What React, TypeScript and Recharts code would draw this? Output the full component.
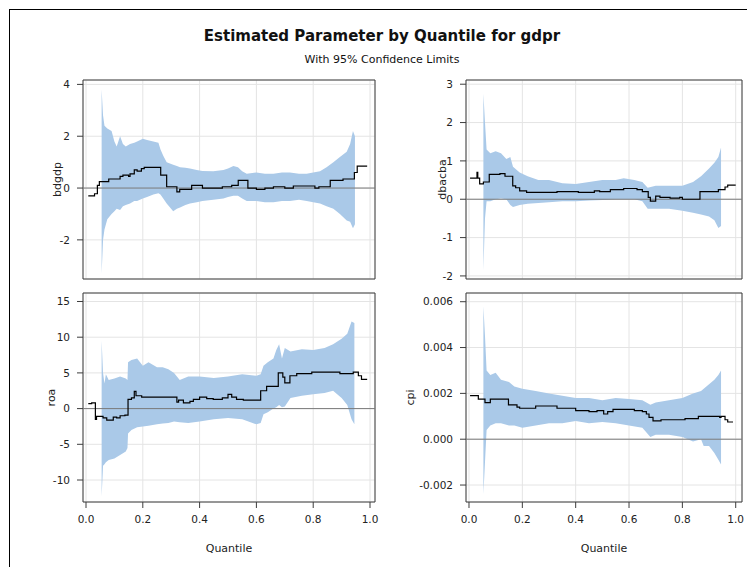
import React from 'react'
import {
  ComposedChart,
  Area,
  Line,
  XAxis,
  YAxis,
  CartesianGrid,
  ReferenceLine,
  ReferenceArea,
} from 'recharts'

const FONT = '"DejaVu Sans", Verdana, sans-serif'
const BAND = '#aac9e8'
const GRID = '#e4e4e4'
const FRAME = '#3c3c3c'

const quantileTicks = [0, 0.2, 0.4, 0.6, 0.8, 1.0]

// bdgdp
const bdgdpTicks = [-2, 0, 2, 4]
const bdgdpBandQ = [0.055, 0.06, 0.065, 0.075, 0.09, 0.10, 0.108, 0.12, 0.13, 0.14, 0.155, 0.17, 0.18, 0.20, 0.215, 0.237, 0.255, 0.262, 0.272, 0.284, 0.307, 0.32, 0.331, 0.35, 0.366, 0.39, 0.41, 0.448, 0.484, 0.50, 0.519, 0.535, 0.55, 0.566, 0.60, 0.63, 0.66, 0.69, 0.718, 0.75, 0.777, 0.80, 0.824, 0.847, 0.871, 0.894, 0.918, 0.93, 0.94, 0.947]
const bdgdpLower = [-3.3, -2.0, -1.6, -1.2, -1.0, -0.9, -0.8, -0.85, -0.7, -0.65, -0.6, -0.5, -0.5, -0.4, -0.35, -0.25, -0.2, -0.25, -0.4, -0.6, -0.9, -0.8, -0.75, -0.65, -0.6, -0.55, -0.5, -0.45, -0.4, -0.35, -0.3, -0.3, -0.4, -0.5, -0.5, -0.55, -0.55, -0.5, -0.5, -0.45, -0.5, -0.55, -0.6, -0.7, -0.8, -1.0, -1.25, -1.3, -1.55, -1.4]
const bdgdpUpper = [3.8, 2.8, 2.4, 2.3, 2.2, 1.8, 1.6, 2.0, 1.7, 1.6, 1.7, 1.75, 1.8, 1.9, 1.85, 1.8, 1.75, 1.5, 1.25, 1.0, 0.9, 0.85, 0.8, 0.78, 0.75, 0.7, 0.66, 0.65, 0.7, 0.75, 0.85, 0.8, 0.65, 0.55, 0.6, 0.55, 0.55, 0.6, 0.6, 0.55, 0.55, 0.6, 0.65, 0.8, 1.0, 1.2, 1.4, 1.7, 2.2, 2.0]
const bdgdpQ = [0.008, 0.03, 0.04, 0.047, 0.08, 0.12, 0.13, 0.15, 0.155, 0.17, 0.18, 0.195, 0.205, 0.263, 0.284, 0.32, 0.33, 0.372, 0.41, 0.48, 0.513, 0.536, 0.57, 0.60, 0.63, 0.66, 0.70, 0.73, 0.806, 0.82, 0.86, 0.905, 0.945, 0.955, 0.99]
const bdgdpEst = [-0.3, -0.22, 0.1, 0.25, 0.35, 0.45, 0.5, 0.45, 0.55, 0.7, 0.65, 0.75, 0.8, 0.5, 0.05, -0.15, -0.05, 0.1, 0.0, 0.05, 0.1, 0.3, 0.0, -0.05, 0.0, 0.05, 0.0, 0.08, 0.0, 0.05, 0.3, 0.35, 0.6, 0.85, 0.85]

// dbacba
const dbacbaTicks = [-2, -1, 0, 1, 2, 3]
const dbacbaBandQ = [0.054, 0.06, 0.066, 0.08, 0.10, 0.12, 0.14, 0.155, 0.165, 0.19, 0.22, 0.26, 0.30, 0.35, 0.40, 0.45, 0.50, 0.55, 0.58, 0.62, 0.65, 0.67, 0.70, 0.75, 0.80, 0.84, 0.87, 0.90, 0.92, 0.935, 0.945]
const dbacbaLower = [-1.85, -0.5, -0.05, -0.05, 0.0, 0.02, 0.0, -0.15, -0.2, -0.15, -0.12, -0.1, -0.08, -0.05, -0.05, -0.03, -0.02, 0.0, 0.0, 0.0, -0.05, -0.25, -0.25, -0.25, -0.3, -0.35, -0.4, -0.45, -0.55, -0.75, -0.7]
const dbacbaUpper = [2.75, 2.0, 1.3, 1.2, 1.25, 1.2, 1.05, 1.1, 0.85, 0.7, 0.6, 0.5, 0.5, 0.42, 0.4, 0.45, 0.5, 0.5, 0.55, 0.5, 0.45, 0.3, 0.35, 0.35, 0.35, 0.45, 0.6, 0.8, 0.95, 1.1, 1.35]
const dbacbaQ = [0.004, 0.03, 0.033, 0.04, 0.054, 0.076, 0.116, 0.135, 0.164, 0.175, 0.19, 0.216, 0.33, 0.41, 0.47, 0.49, 0.53, 0.58, 0.63, 0.65, 0.672, 0.68, 0.70, 0.716, 0.754, 0.79, 0.80, 0.866, 0.935, 0.96, 0.97, 1.0]
const dbacbaEst = [0.55, 0.7, 0.55, 0.4, 0.45, 0.65, 0.67, 0.6, 0.35, 0.3, 0.22, 0.18, 0.2, 0.18, 0.22, 0.2, 0.25, 0.28, 0.25, 0.2, 0.05, -0.05, 0.08, 0.05, 0.03, 0.05, 0.0, 0.2, 0.25, 0.32, 0.37, 0.37]

// roa
const roaTicks = [-10, -5, 0, 5, 10, 15]
const roaBandQ = [0.055, 0.06, 0.065, 0.07, 0.08, 0.10, 0.12, 0.14, 0.146, 0.148, 0.16, 0.18, 0.20, 0.22, 0.25, 0.27, 0.29, 0.31, 0.33, 0.36, 0.40, 0.45, 0.50, 0.55, 0.60, 0.615, 0.625, 0.64, 0.66, 0.67, 0.68, 0.69, 0.70, 0.72, 0.76, 0.80, 0.84, 0.87, 0.90, 0.92, 0.935, 0.945]
const roaLower = [-12.3, -8.0, -7.8, -7.5, -7.2, -7.0, -6.5, -6.0, -5.5, -3.5, -3.0, -2.6, -2.5, -2.4, -2.2, -2.1, -2.0, -1.8, -1.9, -2.0, -1.8, -1.5, -1.3, -1.5, -2.2, -2.0, -0.8, -0.5, 0.0, 0.2, 0.5, 0.2, 0.3, 1.5, 1.8, 2.0, 2.2, 2.5, 1.5, 0.5, -1.5, -2.2]
const roaUpper = [9.5, 5.0, 3.5, 4.8, 4.0, 4.2, 4.5, 4.2, 4.0, 6.5, 6.8, 7.0, 6.0, 6.5, 5.8, 5.8, 5.5, 5.0, 4.0, 4.5, 4.5, 4.3, 4.5, 4.8, 4.6, 4.8, 6.0, 6.5, 7.0, 8.2, 9.0, 7.0, 8.5, 8.0, 8.3, 8.2, 8.5, 9.0, 9.8, 10.5, 12.2, 12.0]
const roaQ = [0.008, 0.02, 0.033, 0.037, 0.06, 0.073, 0.096, 0.108, 0.12, 0.137, 0.148, 0.16, 0.17, 0.176, 0.196, 0.32, 0.326, 0.343, 0.366, 0.378, 0.40, 0.425, 0.448, 0.48, 0.50, 0.513, 0.53, 0.554, 0.615, 0.636, 0.677, 0.693, 0.70, 0.718, 0.742, 0.795, 0.894, 0.941, 0.959, 0.97, 0.99]
const roaEst = [0.7, 0.8, -1.5, -1.1, -1.3, -1.6, -1.2, -1.3, -1.0, -0.9, 1.3, 1.5, 2.4, 1.8, 1.6, 0.9, 1.2, 0.8, 1.0, 1.3, 1.6, 1.4, 1.3, 1.5, 2.0, 1.6, 1.3, 1.2, 2.5, 3.1, 5.0, 4.4, 3.6, 4.6, 4.9, 5.1, 4.9, 5.1, 4.6, 4.1, 4.1]

// cpi
const cpiTicks = [-0.002, 0, 0.002, 0.004, 0.006]
const cpiBandQ = [0.054, 0.06, 0.066, 0.08, 0.10, 0.12, 0.15, 0.17, 0.20, 0.25, 0.30, 0.35, 0.40, 0.45, 0.50, 0.55, 0.60, 0.65, 0.68, 0.70, 0.75, 0.80, 0.84, 0.87, 0.88, 0.90, 0.92, 0.935, 0.945]
const cpiLower = [-0.0024, -0.001, 0.0004, 0.0006, 0.0007, 0.0007, 0.0006, 0.0006, 0.0005, 0.0006, 0.0007, 0.0007, 0.0008, 0.0007, 0.00075, 0.0007, 0.0006, 0.0005, 0.0001, 0.0002, 0.0002, 0.0001, -0.0001, 0.0, -0.0003, -0.0003, -0.0006, -0.0009, -0.0011]
const cpiUpper = [0.0058, 0.0045, 0.003, 0.0028, 0.0029, 0.0026, 0.0025, 0.0023, 0.0022, 0.0021, 0.002, 0.0019, 0.0018, 0.0018, 0.0017, 0.0018, 0.00175, 0.0017, 0.0015, 0.0016, 0.0017, 0.0018, 0.002, 0.0021, 0.0022, 0.0024, 0.0026, 0.0028, 0.003]
const cpiQ = [0.004, 0.035, 0.06, 0.08, 0.14, 0.148, 0.18, 0.19, 0.25, 0.33, 0.40, 0.45, 0.48, 0.505, 0.52, 0.54, 0.62, 0.65, 0.665, 0.675, 0.69, 0.72, 0.81, 0.86, 0.94, 0.945, 0.96, 0.97, 0.99]
const cpiEst = [0.0019, 0.00175, 0.0016, 0.00175, 0.00175, 0.0015, 0.0014, 0.00135, 0.00145, 0.00135, 0.00125, 0.0012, 0.00125, 0.0011, 0.0012, 0.0013, 0.00125, 0.0012, 0.0011, 0.00095, 0.0008, 0.00085, 0.0009, 0.001, 0.00095, 0.001, 0.00085, 0.00075, 0.00075]

const toBand = (q: number[], lo: number[], hi: number[]) => q.map((v, i) => ({ q: v, band: [lo[i], hi[i]] }))
const toLine = (q: number[], est: number[]) => q.map((v, i) => ({ q: v, est: est[i] }))

const fmtInt = (v: number) => String(v)
const fmtQ = (v: number) => v.toFixed(1)
const fmtCpi = (v: number) => v.toFixed(3)

interface PanelProps {
  left: number
  top: number
  plotW: number
  plotH: number
  xDomain: [number, number]
  yDomain: [number, number]
  yTicks: number[]
  yFmt: (v: number) => string
  yLabel: string
  labelX: number
  showX: boolean
  band: { q: number; band: number[] }[]
  line: { q: number; est: number }[]
}

const AXIS_W = 83
const M_TOP = 10
const M_RIGHT = 4

function Panel(p: PanelProps) {
  const xAxisH = p.showX ? 62 : 0
  const width = AXIS_W + p.plotW + M_RIGHT
  const height = M_TOP + p.plotH + xAxisH + 2
  const chartLeft = p.left - AXIS_W
  const chartTop = p.top - M_TOP
  const tickStyle = { fontSize: 10.5, fill: '#222', fontFamily: FONT }

  return (
    <div style={{ position: 'absolute', left: chartLeft, top: chartTop }}>
      <ComposedChart width={width} height={height} margin={{ top: M_TOP, right: M_RIGHT, left: 0, bottom: 2 }}>
        <CartesianGrid stroke={GRID} />
        <XAxis
          type="number"
          dataKey="q"
          domain={p.xDomain}
          ticks={quantileTicks}
          interval={0}
          allowDataOverflow
          hide={!p.showX}
          height={xAxisH}
          tickFormatter={fmtQ}
          tick={tickStyle}
          tickSize={6}
          tickMargin={8}
          axisLine={false}
          tickLine={{ stroke: FRAME }}
          label={() => (
            <text
              x={AXIS_W + p.plotW / 2}
              y={548 - chartTop}
              textAnchor="middle"
              dominantBaseline="central"
              fontSize={11}
              fontFamily={FONT}
              fill="#222"
            >
              Quantile
            </text>
          )}
        />
        <YAxis
          type="number"
          domain={p.yDomain}
          ticks={p.yTicks}
          interval={0}
          allowDataOverflow
          width={AXIS_W}
          tickFormatter={p.yFmt}
          tick={tickStyle}
          tickSize={6}
          tickMargin={7}
          axisLine={false}
          tickLine={{ stroke: FRAME }}
          label={() => {
            const x = p.labelX - chartLeft
            const y = M_TOP + p.plotH / 2
            return (
              <text
                x={x}
                y={y}
                transform={`rotate(-90 ${x} ${y})`}
                textAnchor="middle"
                dominantBaseline="central"
                fontSize={11}
                fontFamily={FONT}
                fill="#222"
              >
                {p.yLabel}
              </text>
            )
          }}
        />
        <Area
          data={p.band}
          dataKey="band"
          type="linear"
          fill={BAND}
          fillOpacity={1}
          stroke="none"
          isAnimationActive={false}
        />
        <ReferenceLine y={0} stroke="#7a7a7a" strokeWidth={1} />
        <Line
          data={p.line}
          dataKey="est"
          type="stepAfter"
          stroke="#000"
          strokeWidth={1.2}
          dot={false}
          isAnimationActive={false}
        />
        <ReferenceArea
          x1={p.xDomain[0]}
          x2={p.xDomain[1]}
          y1={p.yDomain[0]}
          y2={p.yDomain[1]}
          fill="none"
          stroke={FRAME}
          strokeWidth={1}
          ifOverflow="visible"
        />
      </ComposedChart>
    </div>
  )
}

export default function App() {
  const leftX: [number, number] = [-0.0106, 1.0176]
  const rightX: [number, number] = [-0.0112, 1.0236]
  return (
    <div style={{ position: 'absolute', left: 0, top: 0, width: 747, height: 567, overflow: 'hidden', background: '#fff', fontFamily: FONT }}>
      <div style={{ position: 'absolute', left: 9, top: 9, width: 800, height: 600, border: '1px solid #000' }} />
      <div style={{ position: 'absolute', left: 0, width: 764, top: 27, textAlign: 'center', fontSize: 15, fontWeight: 'bold', color: '#111' }}>
        Estimated Parameter by Quantile for gdpr
      </div>
      <div style={{ position: 'absolute', left: 0, width: 764, top: 53, textAlign: 'center', fontSize: 11, color: '#111' }}>
        With 95% Confidence Limits
      </div>
      <Panel
        left={83} top={80} plotW={292} plotH={199}
        xDomain={leftX} yDomain={[-3.51, 4.17]} yTicks={bdgdpTicks} yFmt={fmtInt}
        yLabel="bdgdp" labelX={57} showX={false}
        band={toBand(bdgdpBandQ, bdgdpLower, bdgdpUpper)} line={toLine(bdgdpQ, bdgdpEst)}
      />
      <Panel
        left={466} top={80} plotW={276} plotH={199}
        xDomain={rightX} yDomain={[-2.08, 3.11]} yTicks={dbacbaTicks} yFmt={fmtInt}
        yLabel="dbacba" labelX={442} showX={false}
        band={toBand(dbacbaBandQ, dbacbaLower, dbacbaUpper)} line={toLine(dbacbaQ, dbacbaEst)}
      />
      <Panel
        left={83} top={293} plotW={292} plotH={209}
        xDomain={leftX} yDomain={[-13.08, 16.19]} yTicks={roaTicks} yFmt={fmtInt}
        yLabel="roa" labelX={51} showX={true}
        band={toBand(roaBandQ, roaLower, roaUpper)} line={toLine(roaQ, roaEst)}
      />
      <Panel
        left={466} top={293} plotW={276} plotH={209}
        xDomain={rightX} yDomain={[-0.00274, 0.00638]} yTicks={cpiTicks} yFmt={fmtCpi}
        yLabel="cpi" labelX={410} showX={true}
        band={toBand(cpiBandQ, cpiLower, cpiUpper)} line={toLine(cpiQ, cpiEst)}
      />
    </div>
  )
}
